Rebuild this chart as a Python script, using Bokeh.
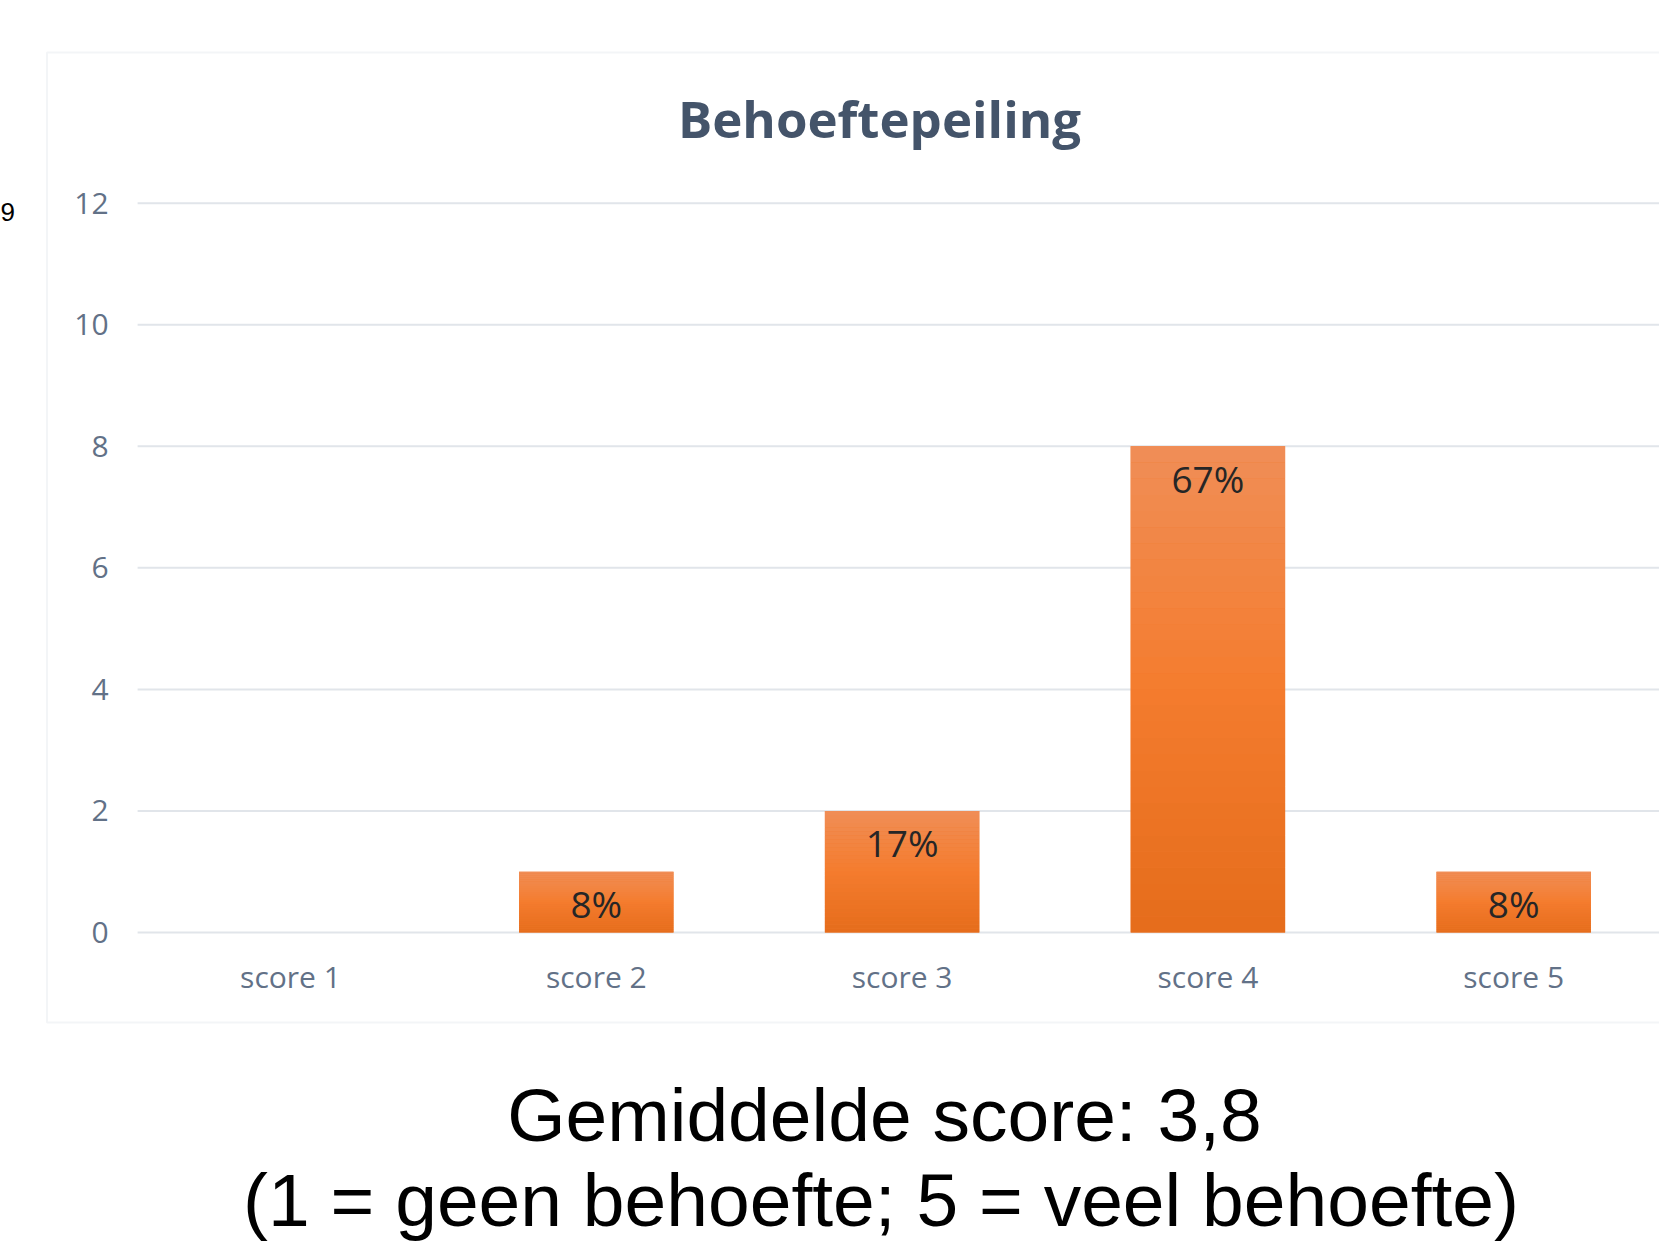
from bokeh.plotting import figure
from bokeh.models import Range1d, Label, PolyAnnotation, ColumnDataSource
from bokeh.core.properties import value
from bokeh.embed import file_html
from bokeh.resources import INLINE

# ---- data ----
categories = ["score 1", "score 2", "score 3", "score 4", "score 5"]
positions = [1, 2, 3, 4, 5]
counts = [0, 1, 2, 8, 1]
pct_labels = ["", "8%", "17%", "67%", "8%"]
y_ticks = [0, 2, 4, 6, 8, 10, 12]
title_text = "Behoeftepeiling"
caption_1 = "Gemiddelde score: 3,8"
caption_2 = "(1 = geen behoefte; 5 = veel behoefte)"
stray_text = "9"

# ---- layout / styles ----
W, H = 1659, 1242
UX = 305.8                 # pixels per category
UY = 60.78                 # pixels per count unit
X_START = 1 - 290.0 / UX   # category 1 centred at page x = 290
Y_START = -(H - 932.0) / UY  # 0 at page y = 932
X_END = X_START + W / UX
Y_END = Y_START + H / UY


def xd(px):
    """page pixel x -> data x"""
    return X_START + px / UX


def yd(py):
    """page pixel y -> data y"""
    return Y_END - py / UY


grad_top = (0xF0, 0x8E, 0x57)
grad_mid = (0xF4, 0x7C, 0x2E)
grad_bot = (0xE5, 0x6C, 0x1B)
N_SLICES = 30
BAR_W = 0.505
TICK_COLOR = "#627187"
GRID_COLOR = "#E1E5EA"


def grad_color(t):
    # t = 0 at top of bar, 1 at bottom
    if t < 0.5:
        a, b, f = grad_top, grad_mid, t / 0.5
    else:
        a, b, f = grad_mid, grad_bot, (t - 0.5) / 0.5
    c = [round(a[i] + (b[i] - a[i]) * f) for i in range(3)]
    return "#%02x%02x%02x" % tuple(c)


p = figure(width=W, height=H, output_backend="svg", toolbar_location=None, title=None,
           x_range=Range1d(X_START, X_END), y_range=Range1d(Y_START, Y_END),
           x_axis_location=None, y_axis_location=None,
           min_border_left=0, min_border_right=0, min_border_top=0, min_border_bottom=0)
p.background_fill_color = "white"
p.border_fill_color = "white"
p.outline_line_color = None
p.grid.visible = False

# chart area border
p.add_layout(PolyAnnotation(xs=[xd(46.5), xd(1720), xd(1720), xd(46.5)],
                            ys=[yd(52), yd(52), yd(1022), yd(1022)],
                            fill_alpha=0, line_color="#D8DDE3", line_width=2))

# horizontal gridlines across the category bands
band_left = positions[0] - 0.5
band_right = positions[-1] + 0.5
p.segment(x0=[band_left] * len(y_ticks), x1=[band_right] * len(y_ticks),
          y0=y_ticks, y1=y_ticks, line_color=GRID_COLOR, line_width=2)

# y tick labels
p.text(x=[band_left] * len(y_ticks), y=y_ticks, text=[str(t) for t in y_ticks],
       text_align="right", text_baseline="middle", x_offset=-29,
       text_font=value("Open Sans"), text_font_size="30px", text_color=TICK_COLOR)

# category labels
p.text(x=positions, y=[0] * len(positions), text=categories,
       text_align="center", text_baseline="alphabetic", y_offset=44,
       text_font=value("Open Sans"), text_font_size="30px", text_color=TICK_COLOR)

# gradient bars: solid base plus slices of each value
bx = [x for x, v in zip(positions, counts) if v > 0]
bv = [v for v in counts if v > 0]
p.vbar(x=bx, bottom=0, top=bv, width=BAR_W, fill_color="#F17A2C", line_color=None)
sx, sb, st, sc = [], [], [], []
for x, v in zip(bx, bv):
    for k in range(N_SLICES):
        sx.append(x)
        sb.append(v * k / N_SLICES)
        st.append(v * (k + 1) / N_SLICES)
        sc.append(grad_color(1 - (k + 0.5) / N_SLICES))
bars = ColumnDataSource(dict(x=sx, bottom=sb, top=st, color=sc))
p.vbar(x="x", bottom="bottom", top="top", width=BAR_W, fill_color="color",
       line_color=None, source=bars)

# percentage labels inside bars
lt = [t for t, v in zip(pct_labels, counts) if v > 0]
p.text(x=bx, y=bv, text=lt, text_align="center", text_baseline="middle", y_offset=32,
       text_font=value("Open Sans"), text_font_size="37px", text_color="#262626")

# title, captions and stray slide number
p.add_layout(Label(x=xd(879), y=yd(117.6), text=title_text,
                   text_align="center", text_baseline="alphabetic",
                   text_font="Open Sans", text_font_style="bold",
                   text_font_size="51px", text_color="#44546A"))
p.add_layout(Label(x=xd(884), y=yd(1114), text=caption_1,
                   text_align="center", text_baseline="alphabetic",
                   text_font="Liberation Sans", text_font_size="75px", text_color="#000000"))
p.add_layout(Label(x=xd(880.5), y=yd(1199), text=caption_2,
                   text_align="center", text_baseline="alphabetic",
                   text_font="Liberation Sans", text_font_size="75px", text_color="#000000"))
p.add_layout(Label(x=xd(0), y=yd(211), text=stray_text,
                   text_align="left", text_baseline="alphabetic",
                   text_font="Liberation Sans", text_font_size="26px", text_color="#000000"))

open("out.html", "w").write(file_html(p, INLINE))
